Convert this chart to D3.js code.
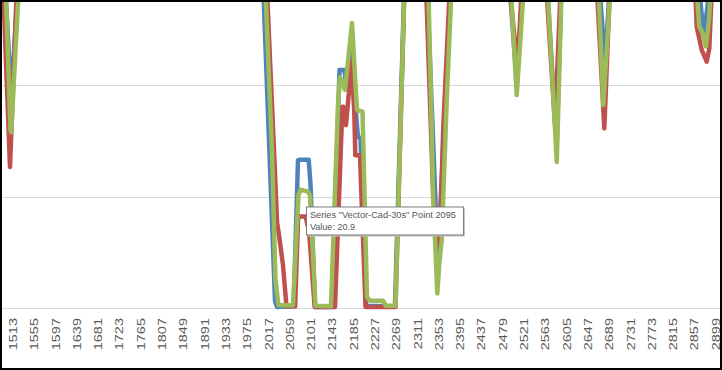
<!DOCTYPE html>
<html>
<head>
<meta charset="utf-8">
<script src="https://cdn.jsdelivr.net/npm/d3@7/dist/d3.min.js"></script>
<style>
  body { margin: 0; background: #fff; }
  svg { display: block; }
</style>
</head>
<body>
<div id="chart"></div>
<script>
// category labels shown on the x axis (every 42nd point)
var tickLabels = [1513, 1555, 1597, 1639, 1681, 1723, 1765, 1807, 1849, 1891, 1933, 1975,
                  2017, 2059, 2101, 2143, 2185, 2227, 2269, 2311, 2353, 2395, 2437, 2479,
                  2521, 2563, 2605, 2647, 2689, 2731, 2773, 2815, 2857, 2899];
var gridValues = [0, 20, 40];

// series as (point, value); values above ~55 run off the top
var bluePoints = [1498, 1510.6, 1523, 1760, 2007, 2030.4, 2034.3, 2067.2, 2075.7, 2078.3, 2096.8, 2100.5, 2109.3,
                  2142.7, 2157.6, 2167.4, 2171.5, 2181, 2190, 2194, 2199, 2210, 2249, 2267, 2285.5, 2310,
                  2330.2, 2351.5, 2377, 2440, 2493, 2507.1, 2519.5, 2545, 2567, 2586, 2595, 2630,
                  2670, 2681.5, 2691, 2780, 2866, 2876.3, 2888.4, 2920];
var blueValues = [58, 37.3, 58, 70, 58, 1.3, 0.2, 0.3, 26.5, 26.6, 26.6, 22, 0.2,
                  0.2, 42.7, 42.7, 39.5, 49, 35, 30.7, 30.5, 0.4, 0.3, 0.3, 58, 66,
                  58, 8.3, 58, 68, 58, 40.3, 58, 65, 58, 29, 58, 64,
                  58, 43.9, 58, 66, 58, 48.7, 58, 66];

var redPoints = [1494, 1507.7, 1521.5, 1760, 2014, 2028.4, 2034.3, 2038.2, 2046.1, 2053, 2070.1, 2076, 2090.8,
                 2097.7, 2108.6, 2148.7, 2163.3, 2165.1, 2170.4, 2181.6, 2186.8, 2188.7, 2198, 2208.9, 2250,
                 2268, 2286, 2310, 2328.2, 2342.6, 2354.4, 2357.2, 2362.3, 2375.5, 2440, 2492, 2509, 2517.5,
                 2545, 2565.2, 2582.7, 2594, 2630, 2664.9, 2679.9, 2691.1, 2780, 2858.8, 2862.1, 2872,
                 2881.9, 2887, 2892.3, 2920];
var redValues = [58, 25.3, 58, 72, 58, 28.3, 15.4, 13.1, 7.7, 0.3, 0.3, 16.4, 16.4,
                 13.6, 0.2, 0.2, 36.1, 36.1, 32.8, 44.2, 35, 27.4, 27.4, 0.2, 0.2,
                 0.2, 58, 68, 58, 19.4, 11.3, 17, 32.5, 58, 70, 58, 43.3, 58,
                 66, 58, 32.8, 58, 65, 58, 32.2, 58, 67, 58, 50.5, 46.3,
                 44.2, 46.6, 58, 66];

var greenPoints = [1499, 1508.7, 1510, 1525.4, 1760, 2011, 2024.4, 2031.3, 2037.3, 2065.9, 2076.7, 2080.7, 2095,
                   2099.4, 2110.2, 2140.8, 2154.6, 2158.6, 2168.4, 2182.2, 2192.1, 2203, 2211.8, 2217.7, 2243.4,
                   2249.3, 2268, 2285.8, 2310, 2332.7, 2342.6, 2350.5, 2354.4, 2359.2, 2369.1, 2378.9, 2440,
                   2495.2, 2507.1, 2521.5, 2545, 2567.6, 2586.1, 2595.9, 2630, 2668, 2677.9, 2692.5, 2780,
                   2861, 2867.3, 2874, 2880.5, 2886.4, 2890.4, 2920];
var greenValues = [58, 31.9, 31.5, 58, 74, 58, 28.3, 5.0, 0.5, 0.5, 20.3, 21.2, 20.9,
                   20.2, 0.4, 0.3, 36.4, 41.4, 39.1, 51.1, 35.5, 35.2, 2.0, 1.3, 1.3,
                   0.4, 0.4, 58, 70, 58, 19.4, 2.6, 8.0, 12.2, 37.3, 58, 72,
                   58, 38.2, 58, 67, 58, 26.2, 58, 66, 58, 36.4, 58, 68,
                   58, 50.5, 49.3, 46.9, 51.7, 58, 68];

var seriesColors = ["#4F81BD", "#C0504D", "#9BBB59"];

// hovered point shown in the tooltip
var tipSeries = "Vector-Cad-30s";
var tipPoint = 2095;
var tipValue = 20.9;

var width = 722, height = 370;

var svg = d3.select("#chart")
  .append("svg")
    .attr("width", width)
    .attr("height", height);

var x = d3.scaleLinear()
    .domain([1513, 2899])
    .range([12.7, 715.4]);

var y = d3.scaleLinear()
    .domain([0, 40])
    .range([308, 85]);

// plot clip (chart is zoomed, lines leave the top)
svg.append("clipPath")
    .attr("id", "plot-clip")
  .append("rect")
    .attr("x", 2)
    .attr("y", 2)
    .attr("width", 718)
    .attr("height", 316);

// gridlines
svg.selectAll(".grid")
  .data(gridValues)
  .join("line")
    .attr("class", "grid")
    .attr("x1", 2)
    .attr("x2", 720)
    .attr("y1", d => Math.round(y(d)) + 0.5)
    .attr("y2", d => Math.round(y(d)) + 0.5)
    .attr("stroke", "#d9d9d9")
    .attr("stroke-width", 1);

// x axis labels, rotated
var xAxis = svg.append("g")
    .attr("transform", "translate(0," + y(0) + ")")
    .call(d3.axisBottom(x).tickValues(tickLabels).tickSize(0).tickFormat(d3.format("d")));

xAxis.select(".domain").remove();
xAxis.selectAll("text")
    .attr("x", null)
    .attr("y", null)
    .attr("dy", null)
    .attr("text-anchor", "end")
    .attr("transform", "translate(3.8,10) scale(0.72,1) rotate(-90)")
    .attr("fill", "#595959")
    .style("font-family", "'Liberation Sans', Arial, sans-serif")
    .style("font-size", "14.5px");

// lines
function toRows(pts, vals) {
  return pts.map(function(p, i) { return {p: p, v: vals[i]}; });
}

var seriesData = [
  toRows(bluePoints, blueValues),
  toRows(redPoints, redValues),
  toRows(greenPoints, greenValues)
];

var line = d3.line()
    .x(d => x(d.p))
    .y(d => y(d.v));

svg.append("g")
    .attr("clip-path", "url(#plot-clip)")
  .selectAll("path")
  .data(seriesData)
  .join("path")
    .attr("d", line)
    .attr("fill", "none")
    .attr("stroke", (d, i) => seriesColors[i])
    .attr("stroke-width", 4.5)
    .attr("stroke-linejoin", "round")
    .attr("stroke-linecap", "round");

// tooltip box below the hovered point
var tipX = x(tipPoint) - 1.8,
    tipY = y(tipValue) + 15,
    tipW = 157,
    tipH = 28;

var tip = svg.append("g")
    .attr("transform", "translate(" + tipX + "," + tipY + ")");

tip.append("rect")
    .attr("x", 2)
    .attr("y", 2)
    .attr("width", tipW)
    .attr("height", tipH)
    .attr("fill", "#c4c4c4");

tip.append("rect")
    .attr("x", 0.5)
    .attr("y", 0.5)
    .attr("width", tipW)
    .attr("height", tipH)
    .attr("fill", "#fff")
    .attr("stroke", "#7a7a7a")
    .attr("stroke-width", 1);

tip.append("text")
    .attr("x", 4)
    .attr("y", 11.5)
    .attr("textLength", 146)
    .attr("lengthAdjust", "spacingAndGlyphs")
    .attr("fill", "#575757")
    .style("font-family", "'Liberation Sans', Arial, sans-serif")
    .style("font-size", "9.6px")
    .text('Series "' + tipSeries + '" Point ' + tipPoint);

tip.append("text")
    .attr("x", 4)
    .attr("y", 23.5)
    .attr("textLength", 45)
    .attr("lengthAdjust", "spacingAndGlyphs")
    .attr("fill", "#575757")
    .style("font-family", "'Liberation Sans', Arial, sans-serif")
    .style("font-size", "9.6px")
    .text("Value: " + tipValue);

// frame
svg.append("rect")
    .attr("x", 1)
    .attr("y", 1)
    .attr("width", 720)
    .attr("height", 368)
    .attr("fill", "none")
    .attr("stroke", "#000")
    .attr("stroke-width", 2);
</script>
</body>
</html>
